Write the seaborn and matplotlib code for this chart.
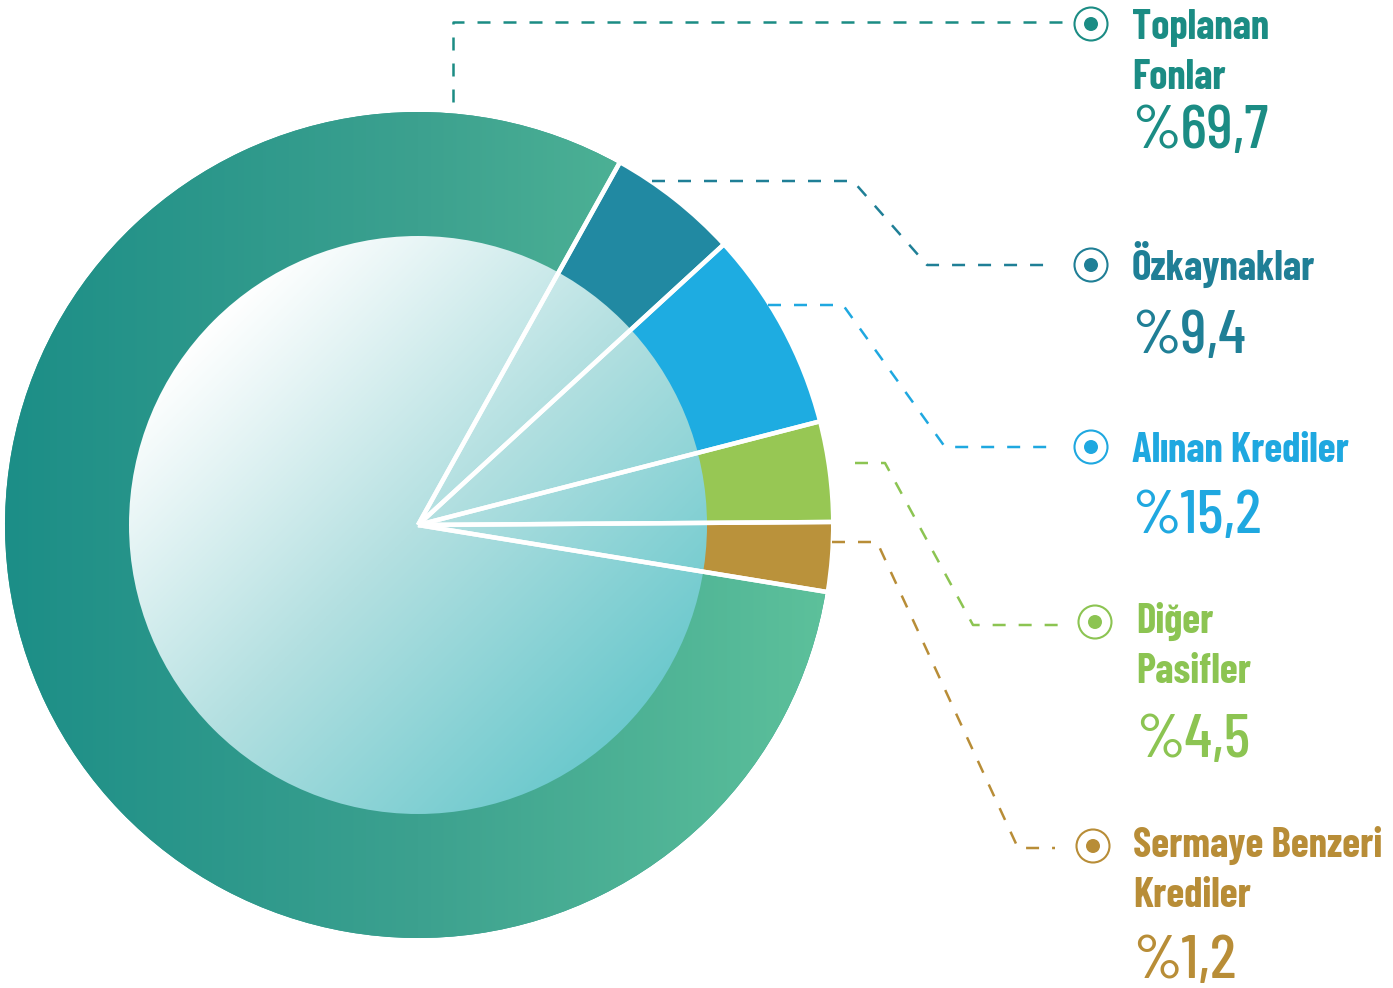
import numpy as np
import matplotlib.pyplot as plt
import seaborn as sns
from matplotlib.patches import Circle

categories = ["Toplanan\nFonlar", "Özkaynaklar", "Alınan Krediler", "Diğer\nPasifler", "Sermaye Benzeri\nKrediler"]
pct_labels = ["%69,7", "%9,4", "%15,2", "%4,5", "%1,2"]
# slice sizes as drawn in the graphic (read off the angles, not the printed %)
drawn_share = [80.5, 5.1, 7.8, 3.9, 2.7]

slice_colors = ["#2a9a8c", "#2189a2", "#1eace1", "#97c754", "#ba923b"]
text_colors = ["#1b8c84", "#1f7f96", "#1fa8e0", "#8cc452", "#b88d37"]

W, H = 1393, 988
CX, CY, R, R_IN = 418, H - 525, 413, 289

# label layout (pixel positions, y measured from the top)
name_x = [1132, 1132, 1132, 1136, 1133]
name_base = [39, 280, 462, 633, 857]
pct_base = [148, 353, 533, 757, 978]
marker_xy = [(1091, 24), (1091, 265), (1091, 447), (1095, 622), (1093, 846)]
leaders = [
    [(453, 102), (453, 22), (1062, 22)],
    [(652, 181), (853, 181), (927, 265), (1055, 265)],
    [(768, 305), (843, 305), (945, 447), (1055, 447)],
    [(855, 463), (885, 463), (973, 625), (1065, 625)],
    [(832, 542), (877, 542), (1018, 848), (1055, 848)],
]

sns.set_theme(style="white")
plt.rcParams["font.family"] = ["Barlow Condensed", "Roboto Condensed", "DejaVu Sans"]


def up(y):
    return H - y


fig = plt.figure(figsize=(W / 100, H / 100), dpi=100)
ax = fig.add_axes([0, 0, 1, 1])

wedges, _ = ax.pie(drawn_share, colors=slice_colors, startangle=-9.3, counterclock=False,
                   center=(CX, CY), radius=R, wedgeprops=dict(linewidth=0))
for w in wedges:
    w.set_zorder(1)

# horizontal gradient on the big ring slice
ring_cmap = sns.blend_palette(["#1c8e87", "#3ca18f", "#5dc19b"], as_cmap=True)
grad = np.linspace(0, 1, 512).reshape(1, -1)
im = ax.imshow(grad, cmap=ring_cmap, extent=(CX - R, CX + R, CY - R, CY + R),
               aspect="auto", zorder=2, interpolation="bilinear")
im.set_clip_path(wedges[0])

# inner disc with a diagonal white -> cyan gradient
inner = Circle((CX, CY), R_IN, facecolor="none", edgecolor="none", zorder=3)
ax.add_patch(inner)
xs = np.linspace(-1, 1, 400)
gx, gy = np.meshgrid(xs, xs)
t = np.clip(((gx + gy) / np.sqrt(2) + 1) / 2, 0, 1)
inner_cmap = sns.blend_palette(["#ffffff", "#b4e0e1", "#6cc9cd"], as_cmap=True)
im2 = ax.imshow(t, cmap=inner_cmap, extent=(CX - R_IN, CX + R_IN, CY - R_IN, CY + R_IN),
                origin="upper", aspect="auto", zorder=3, interpolation="bilinear")
im2.set_clip_path(inner)

# white separators from the centre
for w in wedges:
    for ang in (w.theta1, w.theta2):
        a = np.deg2rad(ang)
        ax.plot([CX, CX + (R + 4) * np.cos(a)], [CY, CY + (R + 4) * np.sin(a)],
                color="white", lw=3.2, solid_capstyle="butt", zorder=5)

# leader lines, markers and labels
for i, name in enumerate(categories):
    col = text_colors[i]
    px, py = zip(*leaders[i])
    ax.plot(px, [up(v) for v in py], color=col, lw=1.8, ls=(0, (5.2, 5.2)), zorder=4)
    mx, my = marker_xy[i]
    ax.add_patch(Circle((mx, up(my)), 16.5, facecolor="white", edgecolor=col, lw=1.5, zorder=6))
    ax.add_patch(Circle((mx, up(my)), 7, facecolor=col, edgecolor="none", zorder=7))
    for j, line in enumerate(name.split("\n")):
        ax.text(name_x[i], up(name_base[i] + 50 * j), line, color=col, fontsize=29.5,
                fontweight="bold", ha="left", va="baseline")
    ax.text(name_x[i], up(pct_base[i]), pct_labels[i], color=col, fontsize=45,
            fontweight="medium", ha="left", va="baseline")

ax.set_xlim(0, W)
ax.set_ylim(0, H)
ax.set_aspect("equal")
ax.axis("off")

fig.savefig("out.png", dpi=100)
